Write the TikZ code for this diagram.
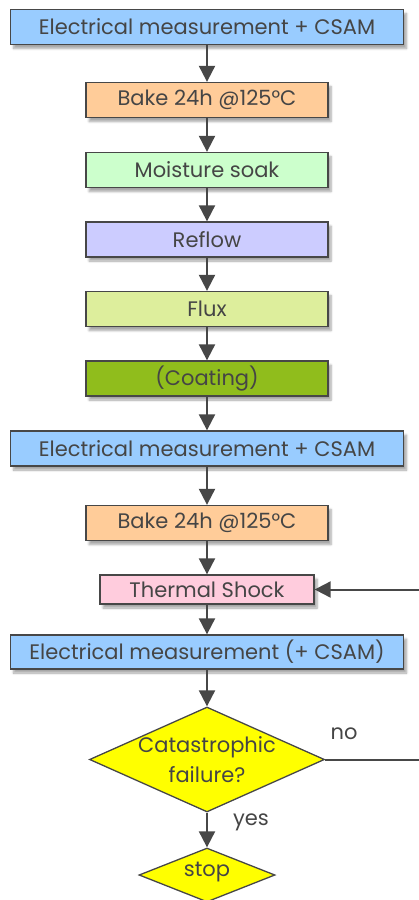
\documentclass[tikz,border=0pt]{standalone}
\usepackage{fontspec}
\setmainfont{Poppins}
\usepackage{xcolor}
\usepackage{tikz}
\usetikzlibrary{arrows.meta,shapes.geometric,shadows.blur}
\definecolor{edge}{HTML}{474747}
\definecolor{ink}{HTML}{454545}
\definecolor{elec}{HTML}{99CCFF}
\definecolor{bake}{HTML}{FFCC99}
\definecolor{soak}{HTML}{CCFFCC}
\definecolor{reflow}{HTML}{CCCCFF}
\definecolor{flux}{HTML}{DDEE9C}
\definecolor{coat}{HTML}{90BD1C}
\definecolor{shock}{HTML}{FFCCDD}
\definecolor{decide}{HTML}{FFFF00}

\begin{document}
\begin{tikzpicture}[x=1pt,y=-1pt,
box/.style={draw=edge,line width=1.3pt,fill=#1,inner sep=0pt,minimum height=35pt,
  text=ink,font=\fontsize{21}{24}\selectfont,
  blur shadow={shadow xshift=3pt,shadow yshift=-4pt,shadow blur steps=6,shadow opacity=35}},
decision/.style={diamond,draw=edge,line width=1.3pt,fill=decide,inner sep=0pt,
  text=ink,font=\fontsize{21}{30}\selectfont},
flow/.style={draw=edge,line width=2pt,-{Triangle[length=16pt,width=16pt]}},
note/.style={text=ink,font=\fontsize{21}{30}\selectfont}]
\useasboundingbox(0,0)rectangle(418,900);
\node[box=elec,minimum width=393pt](elecA)at(207,27){Electrical measurement + CSAM};
\node[box=bake,minimum width=242pt](bakeA)at(207,100){Bake 24h @125°C};
\node[box=soak,minimum width=242pt](soak)at(207,170){Moisture soak};
\node[box=reflow,minimum width=242pt](reflow)at(207,239.5){Reflow};
\node[box=flux,minimum width=242pt](flux)at(207,309){Flux};
\node[box=coat,minimum width=242pt](coat)at(207,378.5){(Coating)};
\node[box=elec,minimum width=393pt](elecB)at(207,448.5){Electrical measurement + CSAM};
\node[box=bake,minimum width=242pt](bakeB)at(207,523){Bake 24h @125°C};
\node[box=shock,minimum width=214pt,minimum height=29pt](shock)at(207,589.5){Thermal Shock};
\node[box=elec,minimum width=393pt,minimum height=34pt](elecC)at(207,652){Electrical measurement (+ CSAM)};
\node[decision,minimum width=235pt,minimum height=105pt](fail)at(207,759.5){};
\node[note,align=center](failtext)at(207,760){Catastrophic\\failure?};
\node[decision,minimum width=136pt,minimum height=54pt](stop)at(207,875){};
\node[note](stoptext)at(207,872){stop};
\draw[flow](elecA)--(bakeA);
\draw[flow](bakeA)--(soak);
\draw[flow](soak)--(reflow);
\draw[flow](reflow)--(flux);
\draw[flow](flux)--(coat);
\draw[flow](coat)--(elecB);
\draw[flow](elecB)--(bakeB);
\draw[flow](bakeB)--(shock);
\draw[flow](shock)--(elecC);
\draw[flow](elecC)--(fail);
\draw[flow](fail)--(stop);
\coordinate(back)at(424,589.5);
\draw[flow](fail.east)-|(back)--(shock.east);
\node[note](no)at(344,734){no};
\node[note](yes)at(251,822){yes};
\end{tikzpicture}
\end{document}
